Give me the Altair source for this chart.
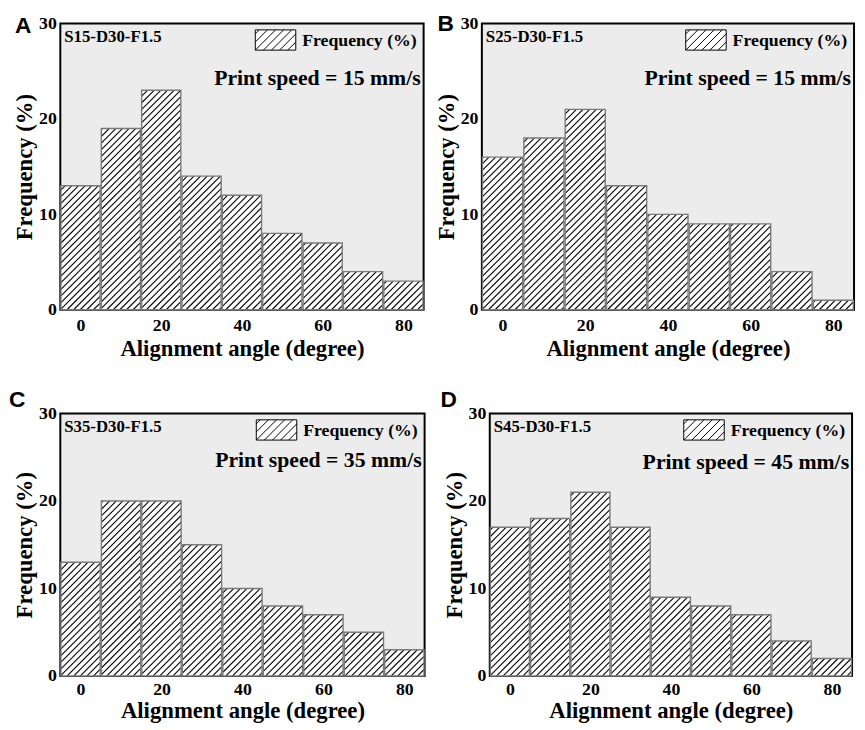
import altair as alt
import pandas as pd
import numpy as np

# ---------------- data ----------------
angles = [0, 10, 20, 30, 40, 50, 60, 70, 80]
freq_A = [13, 19, 23, 14, 12, 8, 7, 4, 3]
freq_B = [16, 18, 21, 13, 10, 9, 9, 4, 1]
freq_C = [13, 20, 20, 15, 10, 8, 7, 5, 3]
freq_D = [17, 18, 21, 17, 9, 8, 7, 4, 2]
x_ticks = [0, 20, 40, 60, 80]
y_ticks = [0, 10, 20, 30]
letters = ["A", "B", "C", "D"]
sample_labels = ["S15-D30-F1.5", "S25-D30-F1.5", "S35-D30-F1.5", "S45-D30-F1.5"]
speed_labels = ["Print speed = 15 mm/s", "Print speed = 15 mm/s",
                "Print speed = 35 mm/s", "Print speed = 45 mm/s"]
series_name = "Frequency (%)"
x_title = "Alignment angle (degree)"
y_title = "Frequency (%)"

X_MIN, X_MAX = -5, 85
Y_MAX = 30
HALF = 4.85          # half bar width (bin width 10 with a hair gap)
SERIF = "Liberation Serif"
SANS = "Liberation Sans"


def hatch(values, w, h, spacing=6.7):
    """45-degree hatch segments clipped to each bar (two points per segment)."""
    kx = w / (X_MAX - X_MIN)
    ky = h / Y_MAX
    rows = []
    seg = 0
    for c, v in zip(angles, values):
        xl = (c - HALF - X_MIN) * kx
        xr = (c + HALF - X_MIN) * kx
        hh = v * ky
        t = np.floor((xl - hh) / spacing) * spacing
        while t < xr:
            ys = max(0.0, xl - t)
            ye = min(hh, xr - t)
            if ye - ys > 0.8:
                rows.append(dict(seg=seg, o=0, hx=(t + ys) / kx + X_MIN, hy=ys / ky))
                rows.append(dict(seg=seg, o=1, hx=(t + ye) / kx + X_MIN, hy=ye / ky))
                seg += 1
            t += spacing
    return pd.DataFrame(rows)


def swatch_path(step=0.4):
    # box x in [-1, 1], y in [-1, 0] (unit = half of sqrt(symbolSize))
    parts = ["M-1,-1H1V0H-1Z"]
    k = -2.0 + step / 2
    while k < 1.0:
        y_lo = max(-1.0, k - 1.0)
        y_hi = min(0.0, k + 1.0)
        if y_hi - y_lo > 0.05:
            parts.append("M%.3f,%.3fL%.3f,%.3f" % (k - y_hi, y_hi, k - y_lo, y_lo))
        k += step
    return "".join(parts)


SWATCH = swatch_path()


def panel(values, letter, sample, speed, w, h, letter_pos, speed_y,
          x_lab_pad, x_title_pad):
    df = pd.DataFrame({"angle": angles, "freq": values})
    df["lo"] = df["angle"] - HALF
    df["hi"] = df["angle"] + HALF
    df["series"] = series_name

    def xs():
        return alt.Scale(domain=[X_MIN, X_MAX], nice=False, zero=False, padding=0)

    def ys():
        return alt.Scale(domain=[0, Y_MAX], nice=False, zero=False, padding=0)

    x_axis = alt.Axis(values=x_ticks, labelPadding=x_lab_pad, titlePadding=x_title_pad)
    y_axis = alt.Axis(values=y_ticks)

    bars = alt.Chart(df).mark_rect(strokeWidth=0).encode(
        x=alt.X("lo:Q", scale=xs(), title=x_title, axis=x_axis),
        x2="hi:Q",
        y=alt.Y("freq:Q", scale=ys(), title=y_title, axis=y_axis),
        y2=alt.datum(0),
        fill=alt.Fill("series:N",
                      scale=alt.Scale(domain=[series_name], range=["white"]),
                      legend=alt.Legend(title=None, orient="top-right", offset=6,
                                        padding=0, symbolType=SWATCH,
                                        symbolSize=1681, symbolStrokeColor="black",
                                        symbolStrokeWidth=1, labelBaseline="bottom",
                                        labelOffset=6, labelFont=SERIF,
                                        labelFontSize=18, labelFontWeight="bold",
                                        labelColor="black")),
    )

    lines = alt.Chart(hatch(values, w, h)).mark_line(
        color="black", strokeWidth=1.1).encode(
        x=alt.X("hx:Q", scale=xs(), title=x_title, axis=x_axis),
        y=alt.Y("hy:Q", scale=ys(), title=y_title, axis=y_axis),
        detail="seg:N",
        order="o:Q",
    )

    outline = alt.Chart(df).mark_rect(fillOpacity=0, stroke="#7a7a7a",
                                      strokeWidth=1.4).encode(
        x=alt.X("lo:Q", scale=xs(), title=x_title, axis=x_axis),
        x2="hi:Q",
        y=alt.Y("freq:Q", scale=ys(), title=y_title, axis=y_axis),
        y2=alt.datum(0),
    )

    txt = pd.DataFrame({"s": [sample], "p": [speed], "l": [letter]})
    sample_t = alt.Chart(txt).mark_text(
        font=SERIF, fontSize=17, fontWeight="bold", color="black",
        align="left", baseline="top").encode(
        text="s:N", x=alt.value(4), y=alt.value(6))
    speed_t = alt.Chart(txt).mark_text(
        font=SERIF, fontSize=22, fontWeight="bold", color="black",
        align="right", baseline="alphabetic").encode(
        text="p:N", x=alt.value(w - 3), y=alt.value(speed_y))
    letter_t = alt.Chart(txt).mark_text(
        font=SANS, fontSize=23, fontWeight="bold", color="black",
        align="left", baseline="alphabetic").encode(
        text="l:N", x=alt.value(letter_pos[0]), y=alt.value(letter_pos[1]))

    return alt.layer(bars, lines, outline, sample_t, speed_t, letter_t).properties(
        width=w, height=h)


pA = panel(freq_A, letters[0], sample_labels[0], speed_labels[0], 368, 290, (-46, 10), 62, 7, 3)
pB = panel(freq_B, letters[1], sample_labels[1], speed_labels[1], 377, 290, (-45, 8), 62, 7, 3)
pC = panel(freq_C, letters[2], sample_labels[2], speed_labels[2], 369, 266, (-52, -6), 54, 5, 1)
pD = panel(freq_D, letters[3], sample_labels[3], speed_labels[3], 367, 266, (-50, -6), 56, 5, 1)

row1 = alt.hconcat(pA, pB, spacing=8).resolve_legend(fill="independent")
row2 = alt.hconcat(pC, pD, spacing=12).resolve_legend(fill="independent")

chart = alt.vconcat(row1, row2, spacing=28).resolve_legend(
    fill="independent"
).properties(
    padding=0
).configure_view(
    fill="#ececec", stroke="black", strokeWidth=2
).configure_axis(
    domain=False, ticks=False, grid=False,
    labelFont=SERIF, labelFontSize=18, labelFontWeight="bold", labelColor="black",
    labelPadding=4,
    titleFont=SERIF, titleFontSize=23, titleFontWeight="bold", titleColor="black",
    titlePadding=2,
)

chart.save("out.html", embed_options={"renderer": "svg", "actions": False})
